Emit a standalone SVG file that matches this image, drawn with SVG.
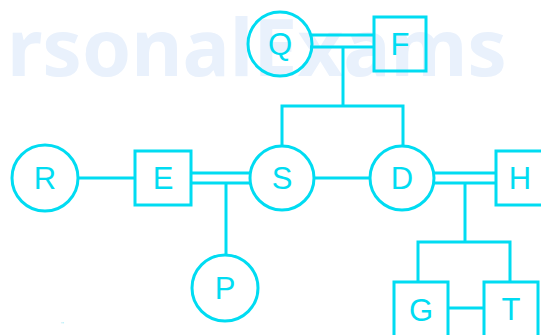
<svg xmlns="http://www.w3.org/2000/svg" width="541" height="335" viewBox="0 0 541 335">
<style>
.s{fill:none;stroke:#00dcf2;stroke-width:3}
.n{fill:none;stroke:#00dcf2;stroke-width:3}
.t{font-family:"Liberation Sans",Arial,sans-serif;font-size:31px;fill:#00dcf2;text-anchor:middle;dominant-baseline:central}
.wm{font-family:"Noto Sans","Liberation Sans",sans-serif;font-weight:bold;font-size:78px;fill:#e9f1fc}
</style>
<rect width="541" height="335" fill="#fff"/>
<text class="wm" x="7" y="76" textLength="500" lengthAdjust="spacingAndGlyphs">rsonalExams</text>
<g id="connectors">
<line class="s" x1="310" y1="35" x2="374" y2="35"/>
<line class="s" x1="310" y1="47" x2="374" y2="47"/>
<polyline class="s" points="343,47 343,106"/>
<polyline class="s" points="282,145 282,106 403,106 403,145"/>
<line class="s" x1="78" y1="178" x2="135" y2="178"/>
<line class="s" x1="191" y1="173" x2="251" y2="173"/>
<line class="s" x1="191" y1="183" x2="251" y2="183"/>
<line class="s" x1="226" y1="183" x2="226" y2="255"/>
<line class="s" x1="315" y1="178" x2="370" y2="178"/>
<line class="s" x1="434" y1="173" x2="496" y2="173"/>
<line class="s" x1="434" y1="183" x2="496" y2="183"/>
<line class="s" x1="465" y1="183" x2="465" y2="242"/>
<polyline class="s" points="418,282 418,242 510,242 510,282"/>
<line class="s" x1="448" y1="308" x2="484" y2="308"/>
</g>
<g id="node-Q"><circle class="n" cx="280" cy="44" r="32"/><text class="t" x="280" y="44">Q</text></g>
<g id="node-F"><rect class="n" x="374" y="17" width="52" height="54"/><text class="t" x="400" y="44">F</text></g>
<g id="node-R"><circle class="n" cx="45" cy="178" r="33"/><text class="t" x="45" y="178">R</text></g>
<g id="node-E"><rect class="n" x="135" y="151" width="56" height="54"/><text class="t" x="163" y="178">E</text></g>
<g id="node-S"><circle class="n" cx="282" cy="178" r="32"/><text class="t" x="282" y="178">S</text></g>
<g id="node-D"><circle class="n" cx="402" cy="178" r="32"/><text class="t" x="402" y="178">D</text></g>
<g id="node-H"><rect class="n" x="496" y="151" width="56" height="54"/><text class="t" x="520" y="178">H</text></g>
<g id="node-P"><circle class="n" cx="225" cy="288" r="33"/><text class="t" x="225" y="288">P</text></g>
<g id="node-G"><rect class="n" x="394" y="282" width="54" height="56"/><text class="t" x="421" y="310">G</text></g>
<g id="node-T"><rect class="n" x="484" y="282" width="54" height="56"/><text class="t" x="511" y="309">T</text></g>
<text x="61" y="327" font-family="Liberation Sans,sans-serif" font-size="8" fill="#9fe9f5">"</text>
</svg>
